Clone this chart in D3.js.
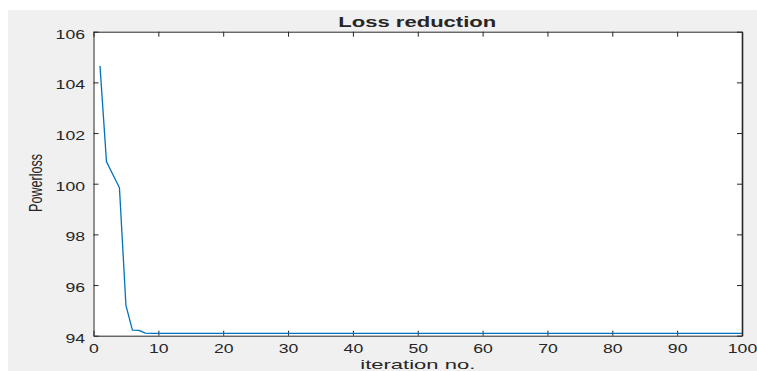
<!DOCTYPE html>
<html>
<head>
<meta charset="utf-8">
<script src="https://cdn.jsdelivr.net/npm/d3@7"></script>
<style>
  html, body { margin: 0; padding: 0; background: #ffffff; }
  svg { display: block; }
  text { font-family: "Liberation Sans", Arial, Helvetica, sans-serif; fill: #262626; }
</style>
</head>
<body>
<svg id="chart" width="757" height="371"></svg>
<script>
// ---- data ----
const iterations = [1,2,3,4,5,6,7,8,9,10,11,12,13,14,15,16,17,18,19,20,
  21,22,23,24,25,26,27,28,29,30,31,32,33,34,35,36,37,38,39,40,
  41,42,43,44,45,46,47,48,49,50,51,52,53,54,55,56,57,58,59,60,
  61,62,63,64,65,66,67,68,69,70,71,72,73,74,75,76,77,78,79,80,
  81,82,83,84,85,86,87,88,89,90,91,92,93,94,95,96,97,98,99,100];
const powerLoss = [104.65,100.87,100.35,99.84,95.2,94.22,94.21,94.1,94.09,94.09,
  94.09,94.09,94.09,94.09,94.09,94.09,94.09,94.09,94.09,94.09,
  94.09,94.09,94.09,94.09,94.09,94.09,94.09,94.09,94.09,94.09,
  94.09,94.09,94.09,94.09,94.09,94.09,94.09,94.09,94.09,94.09,
  94.09,94.09,94.09,94.09,94.09,94.09,94.09,94.09,94.09,94.09,
  94.09,94.09,94.09,94.09,94.09,94.09,94.09,94.09,94.09,94.09,
  94.09,94.09,94.09,94.09,94.09,94.09,94.09,94.09,94.09,94.09,
  94.09,94.09,94.09,94.09,94.09,94.09,94.09,94.09,94.09,94.09,
  94.09,94.09,94.09,94.09,94.09,94.09,94.09,94.09,94.09,94.09,
  94.09,94.09,94.09,94.09,94.09,94.09,94.09,94.09,94.09,94.09];
const xTicks = [0,10,20,30,40,50,60,70,80,90,100];
const yTicks = [94,96,98,100,102,104,106];
const xDomain = [0, 100];
const yDomain = [94, 106];
const titleText = "Loss reduction";
const xLabelText = "iteration no.";
const yLabelText = "Powerloss";

// ---- layout ----
const svg = d3.select("#chart");
const L = 93.5, R = 742, T = 31.7, B = 335.7;
const axisColor = "#262626";

svg.append("rect").attr("x", 8).attr("y", 10).attr("width", 749).attr("height", 361).attr("fill", "#f0f0f0");
svg.append("rect").attr("x", L).attr("y", T).attr("width", R - L).attr("height", B - T).attr("fill", "#ffffff");

const x = d3.scaleLinear().domain(xDomain).range([L, R]);
const y = d3.scaleLinear().domain(yDomain).range([B, T]);

function stretch(sel, perChar) {
  sel.each(function() {
    const t = d3.select(this);
    const s = t.text();
    t.attr("textLength", s.length * perChar).attr("lengthAdjust", "spacingAndGlyphs");
  });
}

// bottom axis
const gx = svg.append("g").attr("transform", `translate(0,${B})`)
  .call(d3.axisBottom(x).tickValues(xTicks).tickSizeInner(-5).tickSizeOuter(0).tickPadding(0));
gx.select(".domain").attr("stroke", axisColor);
gx.selectAll(".tick line").attr("stroke", axisColor);
gx.selectAll(".tick text").attr("y", 17.8).attr("dy", null).attr("font-size", 12.5).attr("fill", axisColor).call(stretch, 9.8);

// top axis (ticks only)
const gxt = svg.append("g").attr("transform", `translate(0,${T})`)
  .call(d3.axisTop(x).tickValues(xTicks).tickSizeInner(-5).tickSizeOuter(0).tickFormat(""));
gxt.select(".domain").attr("stroke", axisColor);
gxt.selectAll(".tick line").attr("stroke", axisColor);

// left axis
const gy = svg.append("g").attr("transform", `translate(${L},0)`)
  .call(d3.axisLeft(y).tickValues(yTicks).tickSizeInner(-5).tickSizeOuter(0).tickPadding(0));
gy.select(".domain").attr("stroke", axisColor);
gy.selectAll(".tick line").attr("stroke", axisColor);
gy.selectAll(".tick text").attr("x", -8.5).attr("dy", null).attr("y", 6.6).attr("font-size", 12.5).attr("fill", axisColor).call(stretch, 9.8);

// right axis (ticks only)
const gyr = svg.append("g").attr("transform", `translate(${R},0)`)
  .call(d3.axisRight(y).tickValues(yTicks).tickSizeInner(-5).tickSizeOuter(0).tickFormat(""));
gyr.select(".domain").attr("stroke", axisColor).attr("stroke-width", 1.6);
gyr.selectAll(".tick line").attr("stroke", axisColor);

// line
const line = d3.line().x((d, i) => x(iterations[i])).y(d => y(d));
svg.append("path").datum(powerLoss)
  .attr("d", line)
  .attr("fill", "none")
  .attr("stroke", "#0072BD")
  .attr("stroke-width", 1.3)
  .attr("stroke-linejoin", "round");

// title
svg.append("text").attr("x", (L + R) / 2 - 0.5).attr("y", 26.5)
  .attr("text-anchor", "middle").attr("font-size", 15).attr("font-weight", "bold")
  .attr("fill", "#000000")
  .attr("textLength", 158).attr("lengthAdjust", "spacingAndGlyphs")
  .text(titleText);

// x label
svg.append("text").attr("x", (L + R) / 2).attr("y", 368.5)
  .attr("text-anchor", "middle").attr("font-size", 13.5)
  .attr("fill", axisColor)
  .attr("textLength", 115).attr("lengthAdjust", "spacingAndGlyphs")
  .text(xLabelText);

// y label
svg.append("text").attr("transform", "translate(41.5,183) rotate(-90)")
  .attr("text-anchor", "middle").attr("font-size", 18)
  .attr("fill", axisColor)
  .attr("textLength", 58).attr("lengthAdjust", "spacingAndGlyphs")
  .text(yLabelText);
</script>
</body>
</html>
